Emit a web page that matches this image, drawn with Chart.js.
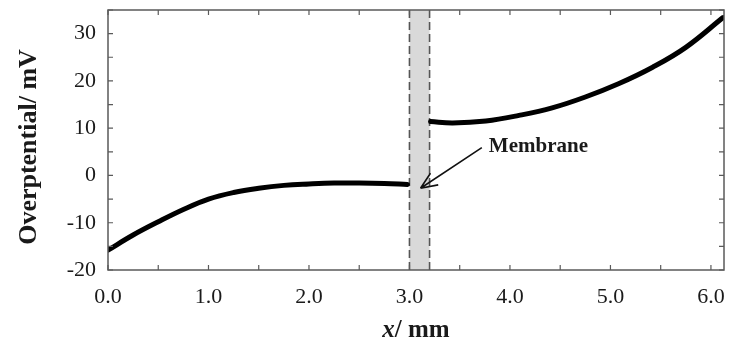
<!DOCTYPE html>
<html>
<head>
<meta charset="utf-8">
<script src="https://cdn.jsdelivr.net/npm/chart.js@4.4.1/dist/chart.umd.min.js"></script>
<style>
  html, body { margin: 0; padding: 0; background: #fff; }
  canvas { display: block; }
</style>
</head>
<body>
<canvas id="overpotential" width="738" height="341"></canvas>
<script>
// potential profile on each side of the membrane
const leftX = [0, 0.25, 0.5, 0.75, 1.0, 1.25, 1.5, 1.75, 2.0, 2.25, 2.5, 2.75, 2.98];
const leftY = [-15.8, -12.6, -9.8, -7.2, -5.0, -3.6, -2.7, -2.1, -1.8, -1.6, -1.6, -1.7, -1.9];
const rightX = [3.21, 3.43, 3.76, 4.09, 4.42, 4.75, 5.08, 5.42, 5.75, 6.12];
const rightY = [11.4, 11.1, 11.5, 12.7, 14.3, 16.6, 19.4, 22.9, 27.1, 33.4];

// membrane position (mm)
const membrane = [3.0, 3.2];
const membraneLabel = 'Membrane';

// tick labels
const xTickLabels = ['0.0', '1.0', '2.0', '3.0', '4.0', '5.0', '6.0'];
const yTickLabels = ['-20', '-10', '0', '10', '20', '30'];

const serif = "'Liberation Serif', 'Times New Roman', serif";
const ink = '#1a1a1a';
const frameColor = '#5a5a5a';

const toPoints = (xs, ys) => xs.map((x, i) => ({ x: x, y: ys[i] }));

const sketch = {
  id: 'sketch',
  beforeDatasetsDraw(chart) {
    const { ctx, chartArea: a, scales: { x } } = chart;
    const x0 = x.getPixelForValue(membrane[0]);
    const x1 = x.getPixelForValue(membrane[1]);
    ctx.save();
    ctx.fillStyle = '#d9d9d9';
    ctx.fillRect(x0, a.top, x1 - x0, a.bottom - a.top);
    ctx.strokeStyle = '#555';
    ctx.lineWidth = 1.6;
    ctx.setLineDash([8, 4]);
    [x0, x1].forEach(px => {
      ctx.beginPath();
      ctx.moveTo(px, a.top);
      ctx.lineTo(px, a.bottom);
      ctx.stroke();
    });
    ctx.restore();
  },
  afterDatasetsDraw(chart) {
    const { ctx, chartArea: a, scales: { x, y } } = chart;
    ctx.save();

    // frame
    ctx.strokeStyle = frameColor;
    ctx.lineWidth = 1.5;
    ctx.strokeRect(a.left, a.top, a.right - a.left, a.bottom - a.top);

    // inward ticks on all four sides
    const len = 5;
    ctx.lineWidth = 1.2;
    ctx.beginPath();
    x.ticks.forEach(t => {
      const px = x.getPixelForValue(t.value);
      ctx.moveTo(px, a.bottom); ctx.lineTo(px, a.bottom - len);
      ctx.moveTo(px, a.top); ctx.lineTo(px, a.top + len);
    });
    y.ticks.forEach(t => {
      const py = y.getPixelForValue(t.value);
      ctx.moveTo(a.left, py); ctx.lineTo(a.left + len, py);
      ctx.moveTo(a.right, py); ctx.lineTo(a.right - len, py);
    });
    ctx.stroke();

    // arrow pointing at the membrane
    const fx = x.getPixelForValue(3.72), fy = y.getPixelForValue(5.9);
    const tx = x.getPixelForValue(3.11), ty = y.getPixelForValue(-2.7);
    const ang = Math.atan2(ty - fy, tx - fx);
    ctx.strokeStyle = '#111';
    ctx.lineWidth = 1.6;
    ctx.beginPath();
    ctx.moveTo(fx, fy);
    ctx.lineTo(tx, ty);
    [0.4, -0.4].forEach(d => {
      ctx.moveTo(tx, ty);
      ctx.lineTo(tx - 18 * Math.cos(ang + d), ty - 18 * Math.sin(ang + d));
    });
    ctx.stroke();

    ctx.fillStyle = ink;
    ctx.font = 'bold 21px ' + serif;
    ctx.textAlign = 'left';
    ctx.textBaseline = 'middle';
    ctx.fillText(membraneLabel, x.getPixelForValue(3.79), y.getPixelForValue(6.1));

    // axis titles
    const cx = (a.left + a.right) / 2;
    ctx.textBaseline = 'alphabetic';
    ctx.font = 'italic bold 25px ' + serif;
    const w1 = ctx.measureText('x').width;
    ctx.font = 'bold 25px ' + serif;
    const w2 = ctx.measureText('/ mm').width;
    const sx = cx - (w1 + w2) / 2;
    ctx.font = 'italic bold 25px ' + serif;
    ctx.fillText('x', sx, 337);
    ctx.font = 'bold 25px ' + serif;
    ctx.fillText('/ mm', sx + w1, 337);

    ctx.font = 'bold 26px ' + serif;
    ctx.translate(29, 147);
    ctx.rotate(-Math.PI / 2);
    ctx.textAlign = 'center';
    ctx.textBaseline = 'middle';
    ctx.fillText('Overptential/ mV', 0, 0);
    ctx.restore();
  }
};

new Chart(document.getElementById('overpotential'), {
  type: 'line',
  data: {
    datasets: [
      { data: toPoints(leftX, leftY) },
      { data: toPoints(rightX, rightY) }
    ]
  },
  options: {
    responsive: false,
    animation: false,
    events: [],
    layout: { padding: { top: 10, right: 14, left: 0, bottom: 0 } },
    elements: {
      point: { radius: 0 },
      line: { borderColor: '#000', borderWidth: 5, tension: 0.4, borderCapStyle: 'round' }
    },
    plugins: { legend: { display: false }, tooltip: { enabled: false } },
    scales: {
      x: {
        type: 'linear',
        min: 0,
        max: 6.13,
        grid: { display: false, drawTicks: false },
        border: { display: false },
        afterBuildTicks: s => {
          s.ticks = [];
          for (let v = 0; v <= 6.0001; v += 0.5) s.ticks.push({ value: v });
        },
        afterFit: s => {
          s.height = 71;
          s.paddingLeft = 0;
          s.paddingRight = 0;
        },
        ticks: {
          padding: 14,
          maxRotation: 0,
          autoSkip: false,
          color: ink,
          font: { family: serif, size: 22 },
          callback: v => {
            const i = xTickLabels.indexOf(Number(v).toFixed(1));
            return i >= 0 ? xTickLabels[i] : '';
          }
        }
      },
      y: {
        min: -20,
        max: 35,
        grid: { display: false, drawTicks: false },
        border: { display: false },
        afterBuildTicks: s => {
          s.ticks = [];
          for (let v = -20; v <= 35; v += 5) s.ticks.push({ value: v });
        },
        afterFit: s => {
          s.width = 108;
          s.paddingTop = 0;
          s.paddingBottom = 0;
        },
        ticks: {
          padding: 12,
          autoSkip: false,
          color: ink,
          font: { family: serif, size: 22 },
          callback: v => {
            const i = yTickLabels.indexOf(String(v));
            return i >= 0 ? yTickLabels[i] : '';
          }
        }
      }
    }
  },
  plugins: [sketch]
});
</script>
</body>
</html>
